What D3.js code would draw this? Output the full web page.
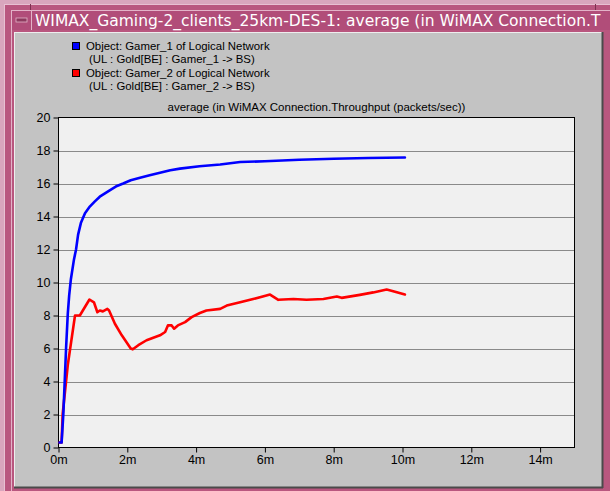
<!DOCTYPE html>
<html>
<head>
<meta charset="utf-8">
<script src="https://cdn.jsdelivr.net/npm/d3@7/dist/d3.min.js"></script>
<style>
  html, body { margin: 0; padding: 0; background: #d9a6bd; }
  svg { display: block; }
  text { font-family: "Liberation Sans", Arial, sans-serif; }
</style>
</head>
<body>
<svg id="chart" width="610" height="491"></svg>
<script>
// Throughput samples (minutes, packets/sec)
const gamer1Time = [0.03, 0.09, 0.14, 0.18, 0.22, 0.27, 0.31, 0.36, 0.45, 0.51, 0.57, 0.65, 0.77, 0.91, 1.05, 1.2, 1.35, 1.5, 1.7, 1.88, 2.1, 2.37, 2.65, 2.95, 3.25, 3.53, 4.1, 4.7, 5.28, 6.0, 7.0, 8.0, 9.0, 10.07];
const gamer1Value = [0.3, 0.3, 2.0, 4.0, 6.0, 8.1, 9.2, 10.2, 11.4, 12.0, 12.9, 13.6, 14.2, 14.6, 14.9, 15.2, 15.4, 15.6, 15.85, 16.0, 16.2, 16.35, 16.5, 16.65, 16.8, 16.9, 17.05, 17.15, 17.3, 17.35, 17.44, 17.5, 17.55, 17.58];

const gamer2Time = [0.03, 0.09, 0.12, 0.27, 0.48, 0.62, 0.9, 1.03, 1.13, 1.2, 1.29, 1.42, 1.47, 1.64, 1.84, 2.1, 2.16, 2.32, 2.56, 2.95, 3.1, 3.18, 3.29, 3.36, 3.47, 3.68, 3.87, 4.11, 4.3, 4.7, 4.89, 5.28, 5.66, 6.15, 6.39, 6.83, 7.21, 7.7, 8.09, 8.23, 8.76, 9.15, 9.54, 9.73, 10.07];
const gamer2Value = [0.3, 0.3, 2.0, 5.0, 8.0, 8.0, 8.97, 8.8, 8.2, 8.3, 8.25, 8.4, 8.3, 7.5, 6.8, 6.0, 5.95, 6.2, 6.5, 6.8, 7.0, 7.4, 7.4, 7.2, 7.4, 7.6, 7.9, 8.15, 8.3, 8.4, 8.6, 8.8, 9.0, 9.27, 8.95, 9.0, 8.95, 9.0, 9.15, 9.07, 9.25, 9.4, 9.57, 9.47, 9.27];

const yTicks = [0, 2, 4, 6, 8, 10, 12, 14, 16, 18, 20];
const xTicks = [0, 2, 4, 6, 8, 10, 12, 14];

const seriesNames = ["Object: Gamer_1 of Logical Network", "Object: Gamer_2 of Logical Network"];
const seriesSub = ["(UL : Gold[BE] : Gamer_1 -> BS)", "(UL : Gold[BE] : Gamer_2 -> BS)"];
const seriesColors = ["#0000ff", "#ff0000"];

// window caption, as much of it as fits in the title bar
const windowTitle = "WIMAX_Gaming-2_clients_25km-DES-1: average (in WiMAX Connection.T";
const plotTitle = "average (in WiMAX Connection.Throughput (packets/sec))";

const svg = d3.select("#chart");

// ---- window frame ----
svg.append("rect").attr("x", 0).attr("y", 0).attr("width", 610).attr("height", 491).attr("fill", "#d9a6bd");
svg.append("rect").attr("x", 4).attr("y", 4).attr("width", 606).attr("height", 487).attr("fill", "#b9577f");
svg.append("line").attr("x1", 4).attr("x2", 610).attr("y1", 4.5).attr("y2", 4.5).attr("stroke", "#e8c0d2");
svg.append("line").attr("x1", 4.5).attr("x2", 4.5).attr("y1", 4).attr("y2", 491).attr("stroke", "#e8c0d2");
svg.append("line").attr("x1", 30.5).attr("x2", 30.5).attr("y1", 4).attr("y2", 10).attr("stroke", "#7d3050");
svg.append("line").attr("x1", 595.5).attr("x2", 595.5).attr("y1", 4).attr("y2", 10).attr("stroke", "#7d3050");

// title bar
svg.append("rect").attr("x", 11).attr("y", 10).attr("width", 599).attr("height", 20).attr("fill", "#b14d79");
svg.append("line").attr("x1", 11).attr("x2", 610).attr("y1", 10.5).attr("y2", 10.5).attr("stroke", "#e3b3c8");
svg.append("line").attr("x1", 11.5).attr("x2", 11.5).attr("y1", 10).attr("y2", 491).attr("stroke", "#e3b3c8");
svg.append("line").attr("x1", 31.5).attr("x2", 31.5).attr("y1", 10).attr("y2", 30).attr("stroke", "#e3b3c8");
// minimize button
svg.append("rect").attr("x", 16).attr("y", 18).attr("width", 11).attr("height", 4).attr("fill", "#8d3a5e").attr("stroke", "#e3b3c8").attr("stroke-width", 0.8);

svg.append("text")
  .attr("x", 35).attr("y", 26)
  .attr("fill", "#ffffff")
  .style("font-family", "'DejaVu Sans', sans-serif")
  .style("font-size", "15.5px")
  .text(windowTitle);

// gray panel
svg.append("rect").attr("x", 14).attr("y", 32).attr("width", 588).attr("height", 455).attr("fill", "#c3c3c3");
svg.append("line").attr("x1", 14).attr("x2", 602).attr("y1", 32.5).attr("y2", 32.5).attr("stroke", "#eeeeee");
svg.append("line").attr("x1", 14.5).attr("x2", 14.5).attr("y1", 32).attr("y2", 487).attr("stroke", "#eeeeee");
svg.append("line").attr("x1", 14).attr("x2", 603).attr("y1", 487.5).attr("y2", 487.5).attr("stroke", "#4a4a4a").attr("stroke-width", 2);
svg.append("line").attr("x1", 602.5).attr("x2", 602.5).attr("y1", 32).attr("y2", 488).attr("stroke", "#4a4a4a").attr("stroke-width", 2);

// ---- plot ----
const margin = { left: 58.5, right: 574.5, top: 117.5, bottom: 447.5 };
const x = d3.scaleLinear().domain([0, 15]).range([margin.left, margin.right]);
const y = d3.scaleLinear().domain([0, 20]).range([margin.bottom, margin.top]);

svg.append("rect")
  .attr("x", margin.left).attr("y", margin.top)
  .attr("width", margin.right - margin.left).attr("height", margin.bottom - margin.top)
  .attr("fill", "#f0f0f0");

// horizontal grid
svg.append("g").selectAll("line").data(yTicks.filter(d => d > 0 && d < 20)).join("line")
  .attr("x1", margin.left).attr("x2", margin.right)
  .attr("y1", d => Math.round(y(d)) + 0.5).attr("y2", d => Math.round(y(d)) + 0.5)
  .attr("stroke", "#8a8a8a").attr("stroke-width", 1);

svg.append("text")
  .attr("x", (margin.left + margin.right) / 2).attr("y", 111)
  .attr("text-anchor", "middle")
  .style("font-size", "11.5px").attr("fill", "#000")
  .text(plotTitle);

// axes
const yAxis = d3.axisLeft(y).tickValues(yTicks).tickSize(5).tickPadding(3).tickFormat(d3.format("d"));
const xAxis = d3.axisBottom(x).tickValues(xTicks).tickSize(5).tickPadding(3).tickFormat(d => d + "m");

const gy = svg.append("g").attr("transform", `translate(${margin.left},0)`).call(yAxis);
const gx = svg.append("g").attr("transform", `translate(0,${margin.bottom})`).call(xAxis);
[gx, gy].forEach(g => {
  g.select(".domain").remove();
  g.selectAll("line").attr("stroke", "#000");
  g.selectAll("text").style("font-size", "12.5px").style("font-family", "'Liberation Sans', Arial, sans-serif").attr("fill", "#000");
});

// plot border
svg.append("rect")
  .attr("x", margin.left).attr("y", margin.top)
  .attr("width", margin.right - margin.left).attr("height", margin.bottom - margin.top)
  .attr("fill", "none").attr("stroke", "#000").attr("stroke-width", 1);

// series lines
const line = d3.line().x(d => x(d[0])).y(d => y(d[1])).curve(d3.curveLinear);
const series = [
  d3.zip(gamer2Time, gamer2Value),
  d3.zip(gamer1Time, gamer1Value)
];
const seriesColorOrder = [seriesColors[1], seriesColors[0]];
svg.append("g").selectAll("path").data(series).join("path")
  .attr("d", line)
  .attr("fill", "none")
  .attr("stroke", (d, i) => seriesColorOrder[i])
  .attr("stroke-width", 2.6)
  .attr("stroke-linejoin", "round")
  .attr("stroke-linecap", "round");

// ---- legend ----
const legend = svg.append("g");
seriesNames.forEach((name, i) => {
  const top = 42 + i * 27;
  legend.append("rect").attr("x", 72.5).attr("y", top + 0.5).attr("width", 7).attr("height", 7)
    .attr("fill", seriesColors[i]).attr("stroke", "#000").attr("stroke-width", 1);
  legend.append("text").attr("x", 86).attr("y", top + 8)
    .style("font-size", "11.4px").attr("fill", "#000").text(name);
  legend.append("text").attr("x", 89).attr("y", top + 21)
    .style("font-size", "11.4px").attr("fill", "#000").text(seriesSub[i]);
});
</script>
</body>
</html>
